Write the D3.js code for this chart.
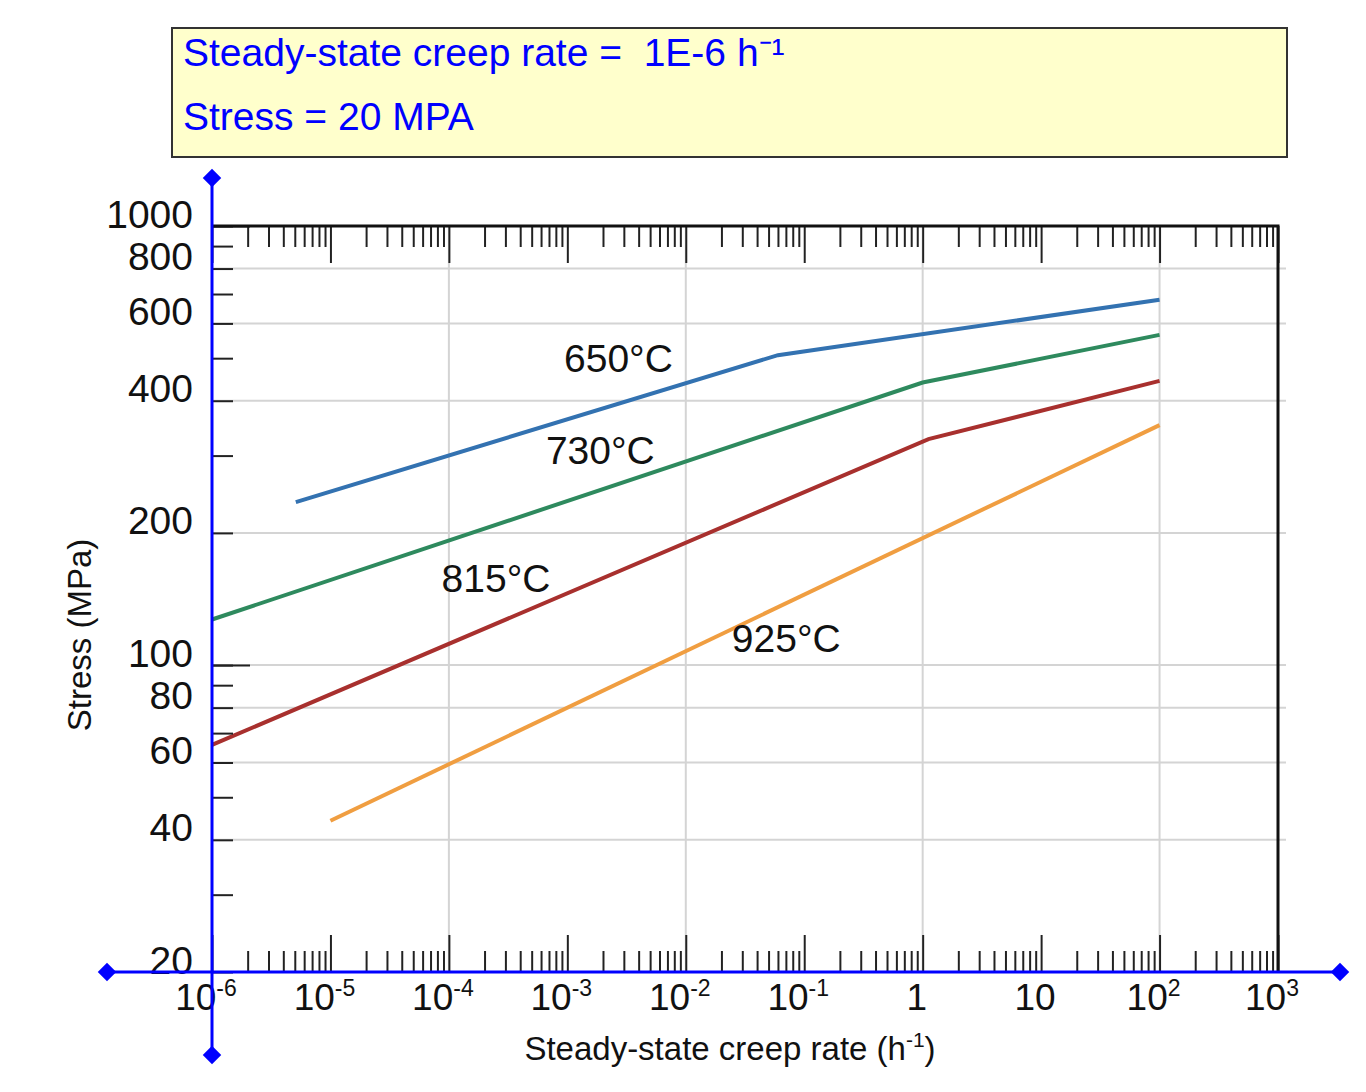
<!DOCTYPE html>
<html>
<head>
<meta charset="utf-8">
<script src="https://cdn.jsdelivr.net/npm/d3@7"></script>
<style>
body { margin: 0; background: #fff; }
text { font-family: "Liberation Sans", Arial, Helvetica, sans-serif; }
</style>
</head>
<body>
<div id="chartDiv"></div>
<script>
// x axis: creep rate (h^-1), log decades
var rateDecades = [1e-6, 1e-5, 1e-4, 1e-3, 1e-2, 1e-1, 1, 10, 100, 1000];
var rateBase = ["10", "10", "10", "10", "10", "10", "1", "10", "10", "10"];
var rateExp = ["-6", "-5", "-4", "-3", "-2", "-1", "", "", "2", "3"];
var rateGrid = [1e-4, 1e-2, 1, 100];

// y axis: stress (MPa)
var stressLabels = [20, 40, 60, 80, 100, 200, 400, 600, 800, 1000];
var stressMajor = [100, 1000];
var stressGrid = [40, 60, 80, 100, 200, 400, 600, 800];

// curves
var temps = ["650°C", "730°C", "815°C", "925°C"];
var colors = ["#3372b1", "#2e8a5e", "#a8302e", "#f09e41"];
var rate650 = [5.1e-6, 0.06, 100];
var stress650 = [235, 508, 679];
var rate730 = [1e-6, 1, 100];
var stress730 = [127, 440, 565];
var rate815 = [1e-6, 1.12, 100];
var stress815 = [65.8, 327, 444];
var rate925 = [1e-5, 100];
var stress925 = [44.2, 352];
var labelRate = [2.7e-3, 1.9e-3, 2.5e-4, 0.0705];
var labelStress = [500, 309, 158, 115];

var infoLine1 = "Steady-state creep rate =  1E-6 h";
var infoLine1Sup = "\u207B\u00B9";
var infoLine2 = "Stress = 20 MPA";

var svg = d3.select("#chartDiv").append("svg").attr("width", 1366).attr("height", 1092);
var plot = {left: 212, right: 1278, top: 226, bottom: 972};

var x = d3.scaleLog().domain([1e-6, 1e3]).range([plot.left, plot.right]);
var y = d3.scaleLog().domain([20, 1000]).range([plot.bottom, plot.top]);

// minor tick values, every 1..9 within each decade
var rateMinor = [];
rateDecades.slice(0, -1).forEach(function (d) {
  for (var k = 2; k <= 9; k++) rateMinor.push(k * d);
});
var stressMinor = [];
[10, 100].forEach(function (d) {
  for (var k = 2; k <= 10; k++) stressMinor.push(k * d);
});

// info box
svg.append("rect")
  .attr("x", 172).attr("y", 28)
  .attr("width", 1115).attr("height", 129)
  .attr("fill", "#ffffcc")
  .attr("stroke", "#333")
  .attr("stroke-width", 2);

var t1 = svg.append("text")
  .attr("x", 183).attr("y", 66)
  .style("font-size", "39px")
  .style("white-space", "pre")
  .attr("fill", "#0000ff")
  .text(infoLine1);
t1.append("tspan").text(infoLine1Sup);

svg.append("text")
  .attr("x", 183).attr("y", 130)
  .style("font-size", "39px")
  .attr("fill", "#0000ff")
  .text(infoLine2);

// grid
svg.append("g").selectAll("line")
  .data(stressGrid)
  .enter().append("line")
  .attr("x1", plot.left).attr("x2", plot.right + 8)
  .attr("y1", function (d) { return y(d); })
  .attr("y2", function (d) { return y(d); })
  .attr("stroke", "#d4d4d4")
  .attr("stroke-width", 2);

svg.append("g").selectAll("line")
  .data(rateGrid)
  .enter().append("line")
  .attr("y1", plot.top).attr("y2", plot.bottom)
  .attr("x1", function (d) { return x(d); })
  .attr("x2", function (d) { return x(d); })
  .attr("stroke", "#d4d4d4")
  .attr("stroke-width", 2);

// curves
var curves = [
  {rate: rate650, stress: stress650},
  {rate: rate730, stress: stress730},
  {rate: rate815, stress: stress815},
  {rate: rate925, stress: stress925}
];
var line = d3.line()
  .x(function (d) { return x(d[0]); })
  .y(function (d) { return y(d[1]); });

svg.append("g").selectAll("path")
  .data(curves)
  .enter().append("path")
  .attr("d", function (d) { return line(d3.zip(d.rate, d.stress)); })
  .attr("fill", "none")
  .attr("stroke", function (d, i) { return colors[i]; })
  .attr("stroke-width", 4);

svg.append("g").selectAll("text")
  .data(temps)
  .enter().append("text")
  .attr("x", function (d, i) { return x(labelRate[i]); })
  .attr("y", function (d, i) { return y(labelStress[i]); })
  .attr("dy", "0.35em")
  .style("text-anchor", "middle")
  .style("font-size", "39px")
  .attr("fill", "#111")
  .text(function (d) { return d; });

// tick marks
function tickStyle(g) {
  g.select(".domain").remove();
  g.selectAll(".tick line").attr("stroke", "#222").attr("stroke-width", 2);
}

svg.append("g")
  .attr("transform", "translate(0," + plot.top + ")")
  .call(d3.axisBottom(x).tickValues(rateMinor).tickSize(21).tickFormat(""))
  .call(tickStyle);
svg.append("g")
  .attr("transform", "translate(0," + plot.top + ")")
  .call(d3.axisBottom(x).tickValues(rateDecades).tickSize(37).tickFormat(""))
  .call(tickStyle);
svg.append("g")
  .attr("transform", "translate(0," + plot.bottom + ")")
  .call(d3.axisTop(x).tickValues(rateMinor).tickSize(21).tickFormat(""))
  .call(tickStyle);
svg.append("g")
  .attr("transform", "translate(0," + plot.bottom + ")")
  .call(d3.axisTop(x).tickValues(rateDecades).tickSize(37).tickFormat(""))
  .call(tickStyle);

svg.append("g")
  .attr("transform", "translate(" + plot.left + ",0)")
  .call(d3.axisRight(y).tickValues(stressMinor).tickSize(21).tickFormat(""))
  .call(tickStyle);
svg.append("g")
  .attr("transform", "translate(" + plot.left + ",0)")
  .call(d3.axisRight(y).tickValues(stressMajor).tickSize(38).tickFormat(""))
  .call(tickStyle);

// frame (top and right)
svg.append("path")
  .attr("d", "M" + plot.left + "," + plot.top + "H" + plot.right + "V" + plot.bottom)
  .attr("fill", "none")
  .attr("stroke", "#111")
  .attr("stroke-width", 3);

// y labels
svg.append("g").selectAll("text")
  .data(stressLabels)
  .enter().append("text")
  .attr("x", plot.left - 19)
  .attr("y", function (d) { return y(d); })
  .attr("dy", "0.04em")
  .style("text-anchor", "end")
  .style("font-size", "39px")
  .attr("fill", "#111")
  .text(function (d) { return d; });

// x labels with superscripts
var xl = svg.append("g").selectAll("text")
  .data(rateDecades)
  .enter().append("text")
  .attr("x", function (d) { return x(d) - 6; })
  .attr("y", plot.bottom + 38)
  .style("text-anchor", "middle")
  .style("font-size", "37px")
  .attr("fill", "#111");
xl.append("tspan").text(function (d, i) { return rateBase[i]; });
xl.append("tspan")
  .attr("dy", -14)
  .style("font-size", "23px")
  .text(function (d, i) { return rateExp[i]; });

// blue axes with diamond ends
svg.append("line")
  .attr("x1", plot.left).attr("x2", plot.left)
  .attr("y1", plot.top - 48).attr("y2", plot.bottom + 83)
  .attr("stroke", "#0000ff").attr("stroke-width", 3);
svg.append("line")
  .attr("x1", plot.left - 105).attr("x2", plot.right + 62)
  .attr("y1", plot.bottom).attr("y2", plot.bottom)
  .attr("stroke", "#0000ff").attr("stroke-width", 3);

var diamonds = [
  [plot.left, plot.top - 48],
  [plot.left, plot.bottom + 83],
  [plot.left - 105, plot.bottom],
  [plot.right + 62, plot.bottom]
];
svg.append("g").selectAll("path")
  .data(diamonds)
  .enter().append("path")
  .attr("d", d3.symbol(d3.symbolSquare, 170))
  .attr("transform", function (d) { return "translate(" + d[0] + "," + d[1] + ") rotate(45)"; })
  .attr("fill", "#0000ff");

// axis titles
var xt = svg.append("text")
  .attr("x", 730).attr("y", 1060)
  .style("text-anchor", "middle")
  .style("font-size", "33px")
  .attr("fill", "#111")
  .text("Steady-state creep rate (h");
xt.append("tspan").attr("dy", -13).style("font-size", "21px").text("-1");
xt.append("tspan").attr("dy", 13).text(")");

svg.append("text")
  .attr("transform", "translate(91,635) rotate(-90)")
  .style("text-anchor", "middle")
  .style("font-size", "33px")
  .attr("fill", "#111")
  .text("Stress (MPa)");
</script>
</body>
</html>
